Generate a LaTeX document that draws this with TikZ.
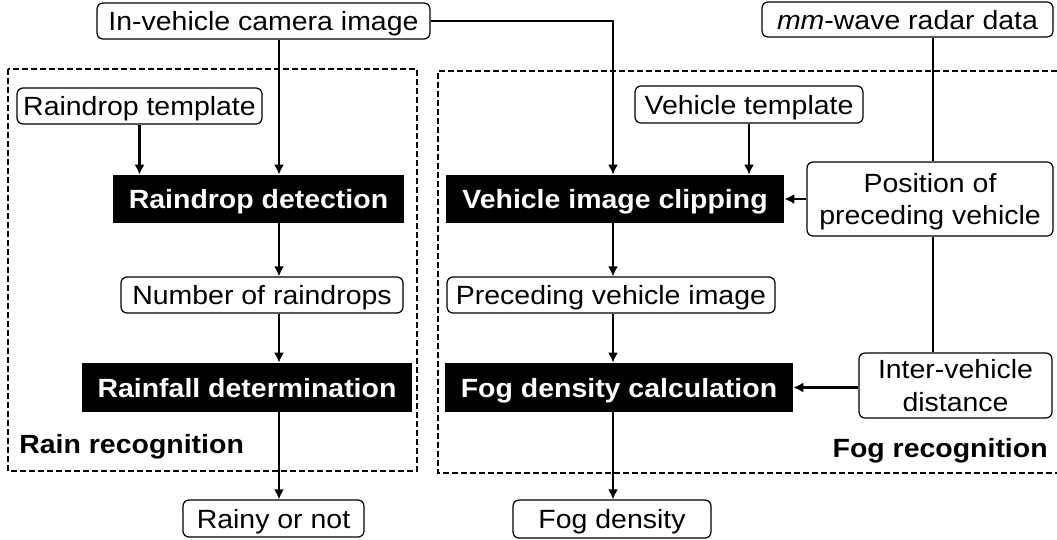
\documentclass[tikz,border=0pt]{standalone}
\usepackage{fontspec}
\setmainfont{Liberation Sans}[FakeStretch=1.08]
\usetikzlibrary{arrows.meta}

\begin{document}
\fontsize{15}{18.4}\selectfont
\begin{tikzpicture}[x=0.02cm, y=-0.02cm, >={Latex[length=0.2cm,width=0.2cm]},
  box/.style={draw, rounded corners=0.12cm, line width=0.7pt, align=center, inner sep=0pt, text depth=0pt},
  blk/.style={fill=black, text=white, font=\bfseries, inner sep=0pt, text depth=0pt},
  conn/.style={line width=1.3pt},
  grp/.style={line width=1.1pt, dash pattern=on 0.12cm off 0.06cm}]
\useasboundingbox (0,0) rectangle (1057,539);
% dashed groups
\draw[grp] (8,69) rectangle (417,471);
\draw[grp] (1057,71) -- (438,71) -- (438,473) -- (1057,473);
\node[anchor=base west, inner sep=0pt, font=\bfseries] (rainlbl) at (19,453) {Rain recognition};
\node[anchor=base east, inner sep=0pt, font=\bfseries] (foglbl) at (1048,457) {Fog recognition};
% inputs
\node[box, minimum width=6.66cm, minimum height=0.72cm] (cam) at (263.5,21) {In-vehicle camera image};
\node[box, minimum width=5.82cm, minimum height=0.7cm] (radar) at (907.5,19.5) {\textit{mm}-wave radar data};
\node[box, minimum width=4.9cm, minimum height=0.72cm] (rtpl) at (139.5,106) {Raindrop template};
\node[box, minimum width=4.56cm, minimum height=0.74cm] (vtpl) at (749,104.5) {Vehicle template};
% rain column
\node[blk, minimum width=5.82cm, minimum height=0.96cm] (rdet) at (258.5,199) {Raindrop detection};
\node[box, minimum width=5.64cm, minimum height=0.72cm] (nrd) at (262,295) {Number of raindrops};
\node[blk, minimum width=6.6cm, minimum height=0.98cm] (rfd) at (247,387.5) {Rainfall determination};
\node[box, minimum width=3.62cm, minimum height=0.74cm] (rainy) at (273.5,518.5) {Rainy or not};
% fog column
\node[blk, minimum width=6.76cm, minimum height=0.96cm] (vclip) at (615,199) {Vehicle image clipping};
\node[box, minimum width=6.56cm, minimum height=0.72cm] (pvi) at (611,295) {Preceding vehicle image};
\node[blk, minimum width=6.96cm, minimum height=0.98cm] (fdc) at (619,387.5) {Fog density calculation};
\node[box, minimum width=3.96cm, minimum height=0.76cm] (fogd) at (612,519) {Fog density};
\node[box, minimum width=4.92cm, minimum height=1.48cm] (pos) at (930,199) {Position of\\preceding vehicle};
\node[box, minimum width=3.86cm, minimum height=1.3cm] (ivd) at (955.5,385.5) {Inter-vehicle\\distance};
\coordinate (rcol) at (279,0);
\coordinate (fcol) at (613,0);
\coordinate (scol) at (933,0);
\draw[conn,->] (cam.south -| rcol) -- (rdet.north -| rcol);
\draw[conn,->] (rtpl.south) -- (rtpl.south |- rdet.north);
\draw[conn,->] (rdet.south -| rcol) -- (nrd.north -| rcol);
\draw[conn,->] (nrd.south -| rcol) -- (rfd.north -| rcol);
\draw[conn,->] (rfd.south -| rcol) -- (rainy.north -| rcol);
\draw[conn,->] (cam.east) -| (vclip.north -| fcol);
\draw[conn,->] (vtpl.south) -- (vtpl.south |- vclip.north);
\draw[conn,->] (vclip.south -| fcol) -- (pvi.north -| fcol);
\draw[conn,->] (pvi.south -| fcol) -- (fdc.north -| fcol);
\draw[conn,->] (fdc.south -| fcol) -- (fogd.north -| fcol);
\draw[conn] (radar.south -| scol) -- (pos.north -| scol);
\draw[conn] (pos.south -| scol) -- (ivd.north -| scol);
\draw[conn,->] (pos.west) -- (vclip.east);
\draw[conn,->] (ivd.west |- fdc.east) -- (fdc.east);
\end{tikzpicture}
\end{document}
